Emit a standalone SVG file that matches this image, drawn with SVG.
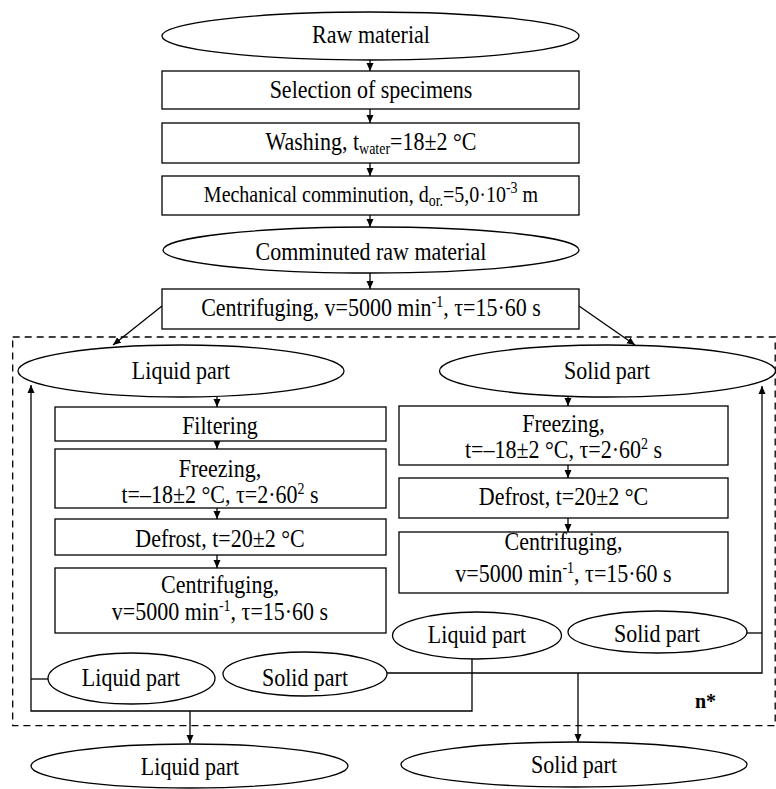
<svg xmlns="http://www.w3.org/2000/svg" width="776" height="789" viewBox="0 0 776 789">
<style>
.n{fill:#fff;stroke:#000;stroke-width:1.3}
.t{font-family:"Liberation Serif","Times New Roman",serif;font-size:22px;text-anchor:middle;fill:#000}
.s{font-size:14px}
.c{fill:none;stroke:#000;stroke-width:1.3}
.d{fill:none;stroke:#000;stroke-width:1.3;stroke-dasharray:7,5}
</style>
<defs>
<marker id="a" markerWidth="8" markerHeight="8" refX="8" refY="4" orient="auto" markerUnits="userSpaceOnUse">
<path d="M0,0.5 L8,4 L0,7.5 Z" fill="#000"/>
</marker>
</defs>
<rect class="d" x="12.7" y="337" width="762.5" height="388.7"/>
<g id="connectors">
<line class="c" x1="370" y1="60" x2="370" y2="71" marker-end="url(#a)"/>
<line class="c" x1="370" y1="109" x2="370" y2="123" marker-end="url(#a)"/>
<line class="c" x1="370" y1="163" x2="370" y2="176" marker-end="url(#a)"/>
<line class="c" x1="370" y1="215" x2="370" y2="227" marker-end="url(#a)"/>
<line class="c" x1="370" y1="273" x2="370" y2="289" marker-end="url(#a)"/>
<line class="c" x1="162" y1="306" x2="113" y2="345" marker-end="url(#a)"/>
<line class="c" x1="579" y1="306" x2="635" y2="345" marker-end="url(#a)"/>
<line class="c" x1="217" y1="397" x2="217" y2="407" marker-end="url(#a)"/>
<line class="c" x1="217" y1="441" x2="217" y2="449" marker-end="url(#a)"/>
<line class="c" x1="217" y1="508" x2="217" y2="519" marker-end="url(#a)"/>
<line class="c" x1="217" y1="555" x2="217" y2="568" marker-end="url(#a)"/>
<line class="c" x1="568" y1="397" x2="568" y2="406" marker-end="url(#a)"/>
<line class="c" x1="568" y1="465" x2="568" y2="478" marker-end="url(#a)"/>
<line class="c" x1="568" y1="518" x2="568" y2="532" marker-end="url(#a)"/>
<polyline class="c" points="48,679 31,679"/>
<polyline class="c" points="472,659 472,711 31,711 31,385" marker-end="url(#a)"/>
<line class="c" x1="190" y1="711" x2="190" y2="743" marker-end="url(#a)"/>
<polyline class="c" points="747,633 762,633"/>
<polyline class="c" points="387,673 762,673 762,386" marker-end="url(#a)"/>
<line class="c" x1="578" y1="673" x2="578" y2="742" marker-end="url(#a)"/>
</g>
<g id="raw">
<ellipse class="n" cx="370.5" cy="36" rx="208.5" ry="24"/>
<text class="t" transform="matrix(1,0,0,1.12,371,43)">Raw material</text>
</g>
<g id="selection">
<rect class="n" x="162" y="71" width="417" height="38"/>
<text class="t" transform="matrix(1,0,0,1.12,371,98)">Selection of specimens</text>
</g>
<g id="washing">
<rect class="n" x="162" y="123" width="417" height="40"/>
<text class="t" transform="matrix(1,0,0,1.12,371,150)">Washing, t<tspan class="s" dy="4">water</tspan><tspan dy="-4">=18±2 °C</tspan></text>
</g>
<g id="mechanical">
<rect class="n" x="162" y="176" width="417" height="39"/>
<text class="t" transform="matrix(1,0,0,1.12,371,202)" style="font-size:20px">Mechanical comminution, d<tspan class="s" dy="4">or.</tspan><tspan dy="-4">=5,0·10</tspan><tspan class="s" dy="-8">-3</tspan><tspan dy="8"> m</tspan></text>
</g>
<g id="comminuted">
<ellipse class="n" cx="371" cy="250" rx="208" ry="23"/>
<text class="t" transform="matrix(1,0,0,1.12,371,260)">Comminuted raw material</text>
</g>
<g id="centrifuging1">
<rect class="n" x="162" y="289" width="417" height="40"/>
<text class="t" transform="matrix(1,0,0,1.12,371,316)">Centrifuging, v=5000 min<tspan class="s" dy="-8">-1</tspan><tspan dy="8">, τ=15·60 s</tspan></text>
</g>
<g id="liquid1">
<ellipse class="n" cx="181" cy="371" rx="163" ry="26"/>
<text class="t" transform="matrix(1,0,0,1.12,181,379)">Liquid part</text>
</g>
<g id="solid1">
<ellipse class="n" cx="607.5" cy="371" rx="168" ry="26"/>
<text class="t" transform="matrix(1,0,0,1.12,607,379)">Solid part</text>
</g>
<g id="filtering">
<rect class="n" x="55" y="407" width="331" height="34"/>
<text class="t" transform="matrix(1,0,0,1.12,220,434)">Filtering</text>
</g>
<g id="freezingL">
<rect class="n" x="55" y="449" width="331" height="59"/>
<text class="t" transform="matrix(1,0,0,1.12,220,477)">Freezing,</text>
<text class="t" transform="matrix(1,0,0,1.12,220,503)">t=–18±2 °C, τ=2·60<tspan class="s" dy="-8">2</tspan><tspan dy="8"> s</tspan></text>
</g>
<g id="defrostL">
<rect class="n" x="55" y="519" width="331" height="36"/>
<text class="t" transform="matrix(1,0,0,1.12,220,547)">Defrost, t=20±2 °C</text>
</g>
<g id="centrifugingL">
<rect class="n" x="55" y="568" width="331" height="65"/>
<text class="t" transform="matrix(1,0,0,1.12,220,593)">Centrifuging,</text>
<text class="t" transform="matrix(1,0,0,1.12,220,620)">v=5000 min<tspan class="s" dy="-8">-1</tspan><tspan dy="8">, τ=15·60 s</tspan></text>
</g>
<g id="freezingR">
<rect class="n" x="399" y="406" width="329" height="59"/>
<text class="t" transform="matrix(1,0,0,1.12,563.5,432)">Freezing,</text>
<text class="t" transform="matrix(1,0,0,1.12,563.5,458)">t=–18±2 °C, τ=2·60<tspan class="s" dy="-8">2</tspan><tspan dy="8"> s</tspan></text>
</g>
<g id="defrostR">
<rect class="n" x="399" y="478" width="329" height="40"/>
<text class="t" transform="matrix(1,0,0,1.12,563.5,505)">Defrost, t=20±2 °C</text>
</g>
<g id="centrifugingR">
<rect class="n" x="399" y="532" width="329" height="61"/>
<text class="t" transform="matrix(1,0,0,1.12,563.5,550)">Centrifuging,</text>
<text class="t" transform="matrix(1,0,0,1.12,563.5,582)">v=5000 min<tspan class="s" dy="-8">-1</tspan><tspan dy="8">, τ=15·60 s</tspan></text>
</g>
<g id="liquid2">
<ellipse class="n" cx="477" cy="635.5" rx="84.5" ry="23.5"/>
<text class="t" transform="matrix(1,0,0,1.12,477,643)">Liquid part</text>
</g>
<g id="solid2">
<ellipse class="n" cx="657.5" cy="632" rx="89.5" ry="21"/>
<text class="t" transform="matrix(1,0,0,1.12,657,642)">Solid part</text>
</g>
<g id="liquid3">
<ellipse class="n" cx="131.5" cy="678.5" rx="83.5" ry="25.5"/>
<text class="t" transform="matrix(1,0,0,1.12,131,686)">Liquid part</text>
</g>
<g id="solid3">
<ellipse class="n" cx="305" cy="674" rx="82" ry="22"/>
<text class="t" transform="matrix(1,0,0,1.12,305,686)">Solid part</text>
</g>
<g id="liquidFinal">
<ellipse class="n" cx="189.5" cy="766" rx="158.5" ry="22"/>
<text class="t" transform="matrix(1,0,0,1.12,190,775)">Liquid part</text>
</g>
<g id="solidFinal">
<ellipse class="n" cx="574" cy="764.5" rx="173" ry="22.5"/>
<text class="t" transform="matrix(1,0,0,1.12,574,773)">Solid part</text>
</g>
<text x="695" y="708" style="font-family:'Liberation Serif',serif;font-size:20px;font-weight:bold">n*</text>
</svg>
